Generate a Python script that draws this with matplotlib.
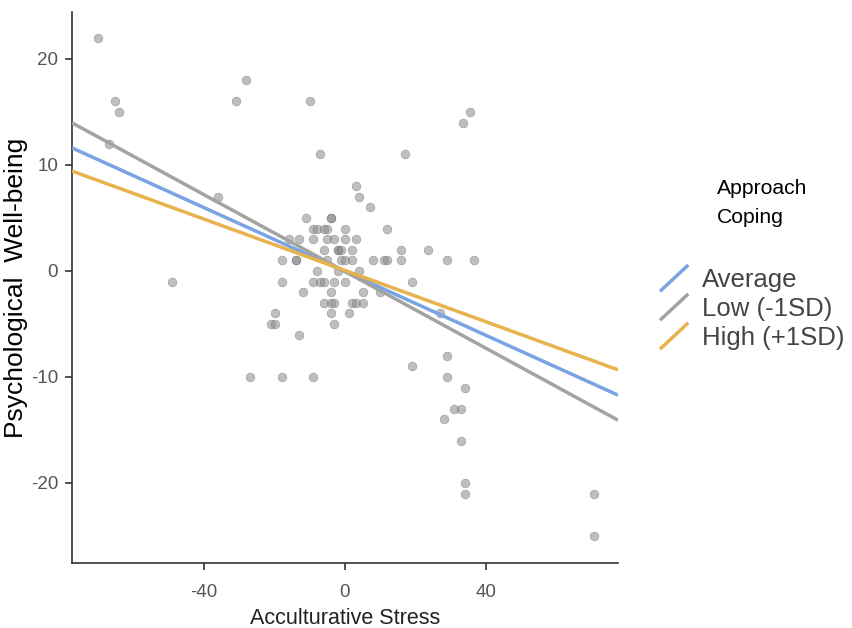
import numpy as np
import matplotlib
matplotlib.use("Agg")
import matplotlib.pyplot as plt
from matplotlib.lines import Line2D
from matplotlib.legend_handler import HandlerBase

plt.rcParams["axes.unicode_minus"] = False

# scatter data (acculturative stress, well-being)
stress = [-70, -65.2, -64.1, -67, -28, -31, -10, -7, -36, 35.5, 33.5, 17, 3, 4, 7,
          -11, -4, -4,
          -9, -8, -6, -5, 0, 12,
          -16, -13, -9, -5, -3, 0, 3,
          -6, -2, -2, -1, 2, 16, 23.5,
          -18, -14, -14, -5, -1, 0, 2, 8, 11, 12, 16, 29, 36.5,
          -8, -2, 4,
          -49, -18, -9, -7, -6, -3, 0, 19,
          -12, -4, 5, 10,
          -6, -4, -3, 2, 3, 5,
          -20, -4, 1, 27,
          -21, -20, -3,
          -13,
          29, 19,
          -27, -18, -9, 29,
          34,
          31, 33,
          28,
          33,
          34, 34,
          70.6, 70.6]
wellbeing = [22, 16, 15, 12, 18, 16, 16, 11, 7, 15, 14, 11, 8, 7, 6,
             5, 5, 5,
             4, 4, 4, 4, 4, 4,
             3, 3, 3, 3, 3, 3, 3,
             2, 2, 2, 2, 2, 2, 2,
             1, 1, 1, 1, 1, 1, 1, 1, 1, 1, 1, 1, 1,
             0, 0, 0,
             -1, -1, -1, -1, -1, -1, -1, -1,
             -2, -2, -2, -2,
             -3, -3, -3, -3, -3, -3,
             -4, -4, -4, -4,
             -5, -5, -5,
             -6,
             -8, -9,
             -10, -10, -10, -10,
             -11,
             -13, -13,
             -14,
             -16,
             -20, -21,
             -21, -25]

# simple slopes for approach coping levels
groups = ["Average", "Low (-1SD)", "High (+1SD)"]
intercepts = [-0.05, -0.05, 0.05]
slopes = [-0.1505, -0.181, -0.121]
colors = ["#79a3e2", "#a3a3a3", "#e8b24c"]

x_ticks = [-40, 0, 40]
y_ticks = [-20, -10, 0, 10, 20]


class DiagHandler(HandlerBase):
    def create_artists(self, legend, orig_handle, xdescent, ydescent,
                       width, height, fontsize, trans):
        line = Line2D([-xdescent, width - xdescent],
                      [-ydescent, height - ydescent],
                      color=orig_handle.get_color(), lw=orig_handle.get_linewidth(),
                      solid_capstyle="butt", transform=trans)
        return [line]


fig = plt.figure(figsize=(8.53, 6.28), dpi=100)
ax = fig.add_axes([72 / 853, 1 - 563 / 628, 546 / 853, 551 / 628])

ax.scatter(stress, wellbeing, s=40, color="#8a8a8a", alpha=0.55,
           edgecolors="#666666", linewidths=0.4, zorder=2)

xs = np.array([-77.5, 77.5])
handles = []
for g, a, b, c in zip(groups, intercepts, slopes, colors):
    h, = ax.plot(xs, a + b * xs, color=c, lw=2.5, label=g, zorder=3,
                 solid_capstyle="butt")
    handles.append(h)

ax.set_xlim(-77.5, 77.5)
ax.set_ylim(-27.55, 24.43)
ax.set_xticks(x_ticks)
ax.set_yticks(y_ticks)
for s in ["top", "right"]:
    ax.spines[s].set_visible(False)
for s in ["left", "bottom"]:
    ax.spines[s].set_color("#333333")
    ax.spines[s].set_linewidth(1.2)
ax.tick_params(length=5, width=1.2, color="#333333", labelcolor="#555555",
               labelsize=13.5)
ax.tick_params(axis="x", pad=10)
ax.tick_params(axis="y", pad=5)
for lab in ax.get_xticklabels() + ax.get_yticklabels():
    lab.set_family("Liberation Sans")

ax.set_xlabel("Acculturative Stress", fontsize=15.5, color="#222222",
              family="Liberation Sans", labelpad=5)
ax.set_ylabel("Psychological  Well-being", fontsize=19, color="black",
              family="Liberation Sans")
ax.yaxis.set_label_coords(-0.081, 0.5)

fig.text(717 / 853, 1 - 203 / 628, "Approach\nCoping", fontsize=15.2,
         family="Liberation Sans", color="black", va="center", ha="left",
         linespacing=1.65)

leg = fig.legend(handles=handles, labels=groups, loc="upper left",
                 bbox_to_anchor=(660 / 853, 1 - 265 / 628),
                 handler_map={Line2D: DiagHandler()},
                 prop={"family": "Liberation Sans", "size": 18.5},
                 labelcolor="#444444", frameon=False, handlelength=1.1,
                 handleheight=1.2, labelspacing=0.08, handletextpad=0.55,
                 borderpad=0, borderaxespad=0)

fig.savefig("out.png", dpi=100)
